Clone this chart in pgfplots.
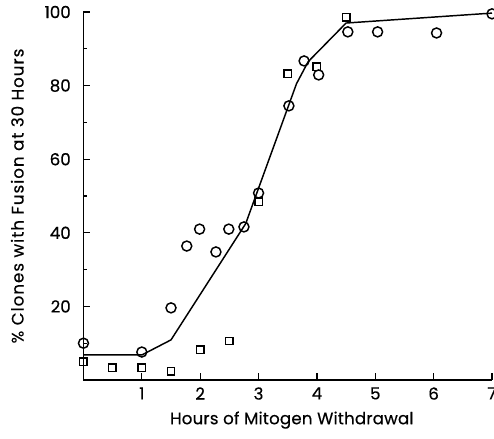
\documentclass[border=0pt]{standalone}
\usepackage{pgfplots}
\pgfplotsset{compat=1.18}
\usepackage{fontspec}
\setmainfont{Poppins}[FakeBold=0.4]
\begin{document}
\begin{tikzpicture}
\begin{axis}[
  scale only axis,
  width=306.4pt, height=276pt,
  xmin=0, xmax=7, ymin=0, ymax=100,
  axis x line=bottom, axis y line=left,
  axis line style={-, line width=1.3pt},
  tick align=inside,
  tick style={black, line width=1pt},
  major tick length=5pt, minor tick length=3pt,
  xtick={1,2,3,4,5,6,7},
  ytick={20,40,60,80,100},
  minor ytick={10,30,50,70,90},
  /pgf/number format/assume math mode=true,
  font=\fontsize{12.5}{14}\selectfont,
  yticklabel style={xshift=-6pt},
  xticklabel style={yshift=-2pt},
  xlabel={\addfontfeature{LetterSpace=1}Hours of Mitogen Withdrawal},
  ylabel={\addfontfeature{LetterSpace=6}\% Clones with Fusion at 30 Hours},
  xlabel style={at={(axis description cs:0.51,-0.109)}, anchor=center},
  ylabel style={at={(axis description cs:-0.162,0.5)}, anchor=center},
  clip=false,
]
\addplot[black, line width=1.1pt, mark=none] coordinates {
 (0,6.8) (1,6.8) (1.5,10.9) (2.78,42.5) (3.65,80.5) (3.85,86.5) (4.5,97) (7,99.7)
};
\addplot[only marks, mark=o, mark size=3.75pt, mark options={line width=1.1pt, fill=white}, black] coordinates {
 (0,10.0) (1.0,7.6) (1.5,19.6) (1.77,36.4) (1.99,41.0) (2.27,34.8) (2.49,41.0)
 (2.75,41.6) (3.0,50.8) (3.52,74.5) (3.78,86.7) (4.03,82.9) (4.53,94.6)
 (5.04,94.6) (6.05,94.3) (7.0,99.5)
};
\addplot[only marks, mark=square, mark size=2.8pt, mark options={line width=1.1pt, fill=white}, black] coordinates {
 (0,4.9) (0.49,3.3) (1.0,3.3) (1.5,2.4) (2.0,8.2) (2.5,10.6)
 (3.0,48.4) (3.5,83.2) (4.0,85.1) (4.5,98.6)
};
\end{axis}
\pgfresetboundingbox
\path[use as bounding box] ([shift={(-62.6pt,-44.25pt)}]current axis.south west) rectangle ([shift={(1.5pt,9pt)}]current axis.north east);
\end{tikzpicture}
\end{document}
